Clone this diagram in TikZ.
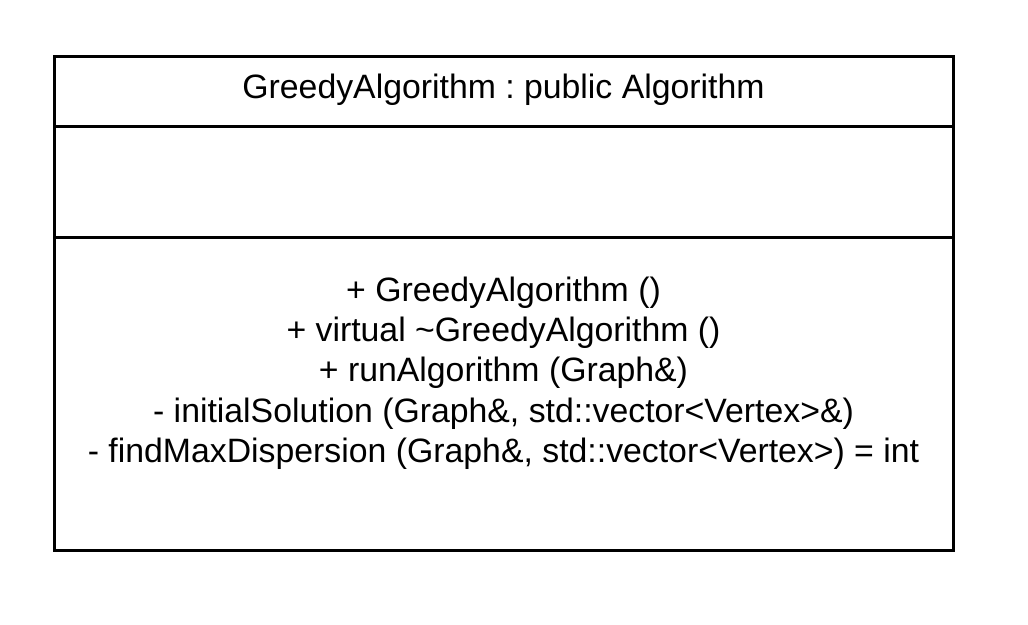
\documentclass[tikz,border=0pt]{standalone}
\usepackage{fontspec}
\setmainfont{Liberation Sans}
\usetikzlibrary{positioning}
\frenchspacing

\begin{document}
\begin{tikzpicture}[line cap=rect,line join=miter, x=1pt,y=-1pt]
					\useasboundingbox (0,0) rectangle (1028,624);
					\tikzset{umltext/.style={font=\fontsize{33.8}{40.3}\selectfont, align=center, inner sep=0pt}}
					\draw[line width=3pt,color=black] (54,56) rectangle (953,550);
					\draw[line width=3pt,color=black] (54,126) -- (953,126);
					\draw[line width=3pt,color=black] (54,237) -- (953,237);
					\node[umltext] (title) at (503.5,90) {GreedyAlgorithm : public Algorithm};
					\node[umltext] (methods) at (503.5,373) {+ GreedyAlgorithm ()\\
						+ virtual \textasciitilde GreedyAlgorithm ()\\
						+ runAlgorithm (Graph\&)\\
						- initialSolution (Graph\&, std::vector<Vertex>\&)\\
						- findMaxDispersion (Graph\&, std::vector<Vertex>) = int};
				\end{tikzpicture}
\end{document}
